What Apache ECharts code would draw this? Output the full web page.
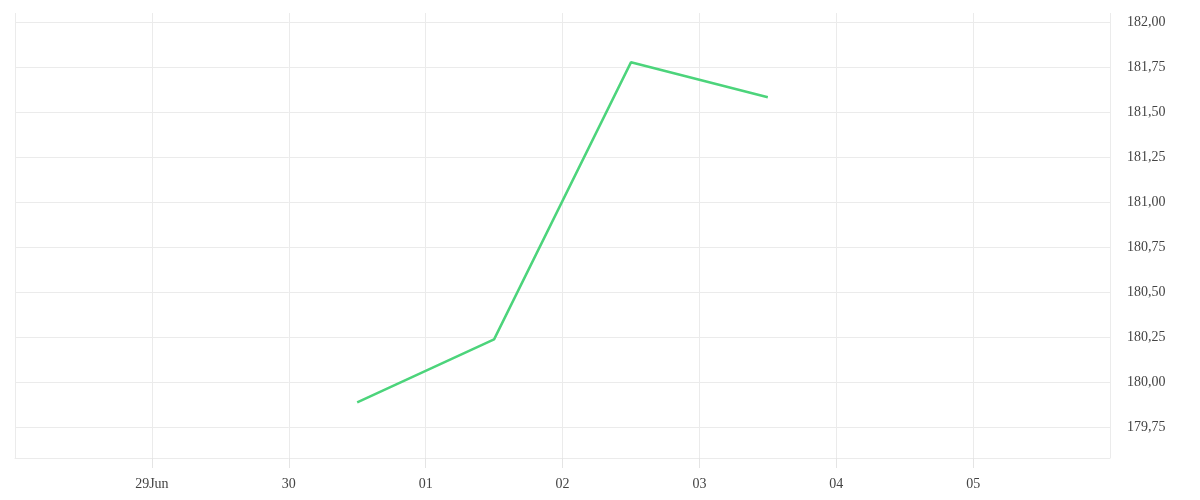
<!DOCTYPE html>
<html>
<head>
<meta charset="utf-8">
<script src="https://cdn.jsdelivr.net/npm/echarts@6/dist/echarts.min.js"></script>
<style>
  html, body { margin: 0; padding: 0; background: #fff; }
  #chart { width: 1200px; height: 500px; }
</style>
</head>
<body>
<div id="chart"></div>
<script>
// data
const startDate = '2023-06-28';
const dayLabels = ['', '29Jun', '30', '01', '02', '03', '04', '05', ''];
const pointDates = ['2023-06-30T12:00', '2023-07-01T12:00', '2023-07-02T12:00', '2023-07-03T12:00'];
const pointValues = [179.887, 180.237, 181.776, 181.582];
const yTicks = [179.75, 180, 180.25, 180.5, 180.75, 181, 181.25, 181.5, 181.75, 182];

const DAY = 86400000;
const t0 = Date.parse(startDate + 'T00:00Z');
// day offset from the start of the axis
function dayIndex(d) {
    return (Date.parse(d + 'Z') - t0) / DAY;
}

const gridColor = '#ebebeb';
const textStyle = { color: '#444', fontFamily: 'Liberation Serif', fontSize: 14 };

var myChart = echarts.init(document.getElementById('chart'));
var option = {
    animation: false,
    grid: { left: 15, right: 90, top: 13, bottom: 42, containLabel: false },
    xAxis: {
        type: 'value',
        min: 0,
        max: dayLabels.length - 1,
        interval: 1,
        axisLine: { show: true, lineStyle: { color: gridColor } },
        axisTick: { show: true, inside: false, length: 10, lineStyle: { color: '#e4e4e4', width: 1 } },
        splitLine: { show: true, lineStyle: { color: gridColor } },
        axisLabel: Object.assign({
            margin: 19,
            showMinLabel: false,
            showMaxLabel: false,
            formatter: v => dayLabels[Math.round(v)] || ''
        }, textStyle)
    },
    yAxis: {
        type: 'value',
        position: 'right',
        min: 179.578,
        max: 182.05,
        axisLine: { show: false },
        axisTick: { show: false, customValues: yTicks },
        splitLine: { show: true, lineStyle: { color: gridColor } },
        axisLabel: Object.assign({
            margin: 17,
            customValues: yTicks,
            formatter: v => v.toFixed(2).replace('.', ',')
        }, textStyle)
    },
    series: [{
        type: 'line',
        data: pointDates.map((d, i) => [dayIndex(d), pointValues[i]]),
        showSymbol: false,
        lineStyle: { color: '#4cd47b', width: 2.5 },
        itemStyle: { color: '#4cd47b' }
    }]
};
myChart.setOption(option);
</script>
</body>
</html>
